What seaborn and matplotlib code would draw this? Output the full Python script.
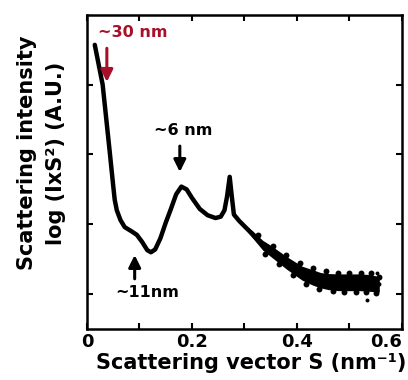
import pandas as pd
import seaborn as sns
import matplotlib.pyplot as plt
import numpy as np

# Values
s_vals = [0.015, 0.030, 0.044, 0.050, 0.053, 0.057, 0.064, 0.072, 0.085, 0.095,
          0.105, 0.115, 0.122, 0.130, 0.140, 0.150, 0.160, 0.170, 0.180, 0.190,
          0.200, 0.215, 0.230, 0.245, 0.255, 0.262, 0.267, 0.272, 0.276, 0.280,
          0.290, 0.315, 0.335, 0.350, 0.380, 0.410, 0.430, 0.445, 0.460, 0.480,
          0.500, 0.520, 0.540, 0.557]
log_int = [4.07, 3.50, 2.50, 2.06, 1.85, 1.70, 1.56, 1.46, 1.40, 1.35,
           1.25, 1.13, 1.10, 1.14, 1.30, 1.52, 1.72, 1.93, 2.04, 2.00,
           1.88, 1.72, 1.63, 1.59, 1.61, 1.70, 1.90, 2.18, 1.90, 1.64,
           1.55, 1.36, 1.20, 1.12, 0.95, 0.80, 0.74, 0.70, 0.68, 0.67,
           0.67, 0.67, 0.66, 0.64]
# half width of the noisy band
noise = [0, 0, 0, 0, 0, 0, 0, 0, 0, 0,
         0, 0, 0, 0, 0, 0, 0, 0, 0, 0,
         0, 0, 0, 0, 0, 0, 0, 0, 0, 0,
         0.01, 0.05, 0.07, 0.08, 0.09, 0.10, 0.11, 0.11, 0.115, 0.12,
         0.12, 0.12, 0.12, 0.11]
# loose dots on the band edges
speck_s = [0.325, 0.340, 0.355, 0.365, 0.380, 0.392, 0.405, 0.418, 0.430, 0.442,
           0.455, 0.468, 0.478, 0.490, 0.500, 0.512, 0.522, 0.532, 0.542, 0.550,
           0.556]
speck_y = [1.35, 1.08, 1.19, 0.935, 1.06, 0.775, 0.94, 0.65, 0.87, 0.58,
           0.825, 0.545, 0.81, 0.53, 0.81, 0.53, 0.81, 0.525, 0.80, 0.51,
           0.75]
stray_s = [0.533, 0.552]
stray_y = [0.42, 0.80]

annot_text = ['~30 nm', '~6 nm', '~11nm']

df = pd.DataFrame({'S': s_vals, 'I': log_int, 'noise': noise})

sns.set_style('ticks')
plt.rcParams['font.family'] = ['DejaVu Sans']
plt.rcParams['font.weight'] = 'bold'
for key in ['text.color', 'axes.labelcolor', 'xtick.color', 'ytick.color',
            'axes.edgecolor']:
    plt.rcParams[key] = 'black'

fig = plt.figure(figsize=(4.08, 3.80), dpi=100)
ax = fig.add_axes([0.213, 0.134, 0.772, 0.827])

ax.fill_between(df['S'], df['I'] - df['noise'], df['I'] + df['noise'],
                color='black', lw=0)
sns.lineplot(data=df, x='S', y='I', color='black', lw=3.2, ax=ax)
ax.scatter(speck_s, speck_y, s=18, color='black', lw=0)
ax.scatter(stray_s, stray_y, s=8, color='black', lw=0)

ax.set_xlim(0, 0.6)
ax.set_ylim(0, 4.5)
ax.set_xticks([0, 0.2, 0.4, 0.6])
ax.set_xticklabels(['0', '0.2', '0.4', '0.6'])
ax.set_xticks([0.1, 0.3, 0.5], minor=True)
ax.set_yticks([0.5, 1.5, 2.5, 3.5])
ax.set_yticklabels([])
ax.tick_params(which='both', direction='in', top=True, right=True,
               length=4, width=1.5, labelsize=13, pad=3)
ax.get_xticklabels()[-1].set_horizontalalignment('right')
for sp in ax.spines.values():
    sp.set_linewidth(1.8)

ax.set_xlabel('Scattering vector S (nm\u207b\u00b9)', fontsize=15,
              fontweight='bold')
ax.xaxis.set_label_coords(0.52, -0.075)
ax.set_ylabel('Scattering intensity\nlog (IxS\u00b2) (A.U.)', fontsize=15,
              fontweight='bold', linespacing=1.6)
ax.yaxis.set_label_coords(-0.065, 0.56)

red = '#a8102a'
ax.text(0.022, 4.25, annot_text[0], color=red, fontsize=11.5,
        fontweight='bold', va='center')
ax.annotate('', xy=(0.038, 3.5), xytext=(0.038, 4.06),
            arrowprops=dict(arrowstyle='-|>', color=red, lw=2.2, mutation_scale=18))
ax.text(0.183, 2.85, annot_text[1], fontsize=11.5, fontweight='bold',
        ha='center', va='center')
ax.annotate('', xy=(0.177, 2.21), xytext=(0.177, 2.66),
            arrowprops=dict(arrowstyle='-|>', color='black', lw=2.2, mutation_scale=18))
ax.text(0.114, 0.52, annot_text[2], fontsize=11.5, fontweight='bold',
        ha='center', va='center')
ax.annotate('', xy=(0.091, 1.10), xytext=(0.091, 0.68),
            arrowprops=dict(arrowstyle='-|>', color='black', lw=2.2, mutation_scale=18))

fig.savefig('out.png', dpi=100)
